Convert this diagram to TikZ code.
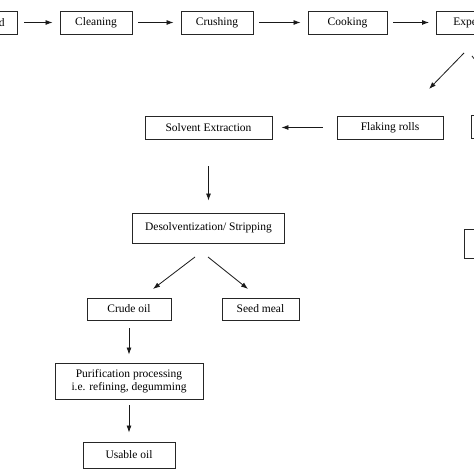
\documentclass[tikz,border=0pt]{standalone}
\usepackage{fontspec}
\setmainfont{Liberation Serif}
\usetikzlibrary{shapes, arrows.meta}
\tikzstyle{block} = [rectangle, draw=black!85, line width=0.9pt, text=black,
    font=\fontsize{11.5}{13.5}\selectfont, minimum height=23pt, inner sep=2pt]
\tikzstyle{line} = [draw=black!90, line width=0.8pt, -{Latex[length=7pt,width=5pt]}]
\tikzstyle{gap} = [shorten <=6pt, shorten >=7pt]

\begin{document}
\begin{tikzpicture}[node distance=121pt, auto, x=1pt, y=1pt]
        \useasboundingbox (0,0) rectangle (474,474);
        \clip (0,0) rectangle (474,474);
        % Place nodes
        \node [block, minimum width=72pt] (cleaning) at (96,451.5) {Cleaning};
        \node [block, anchor=east, text width=10pt, align=right, inner xsep=13pt] (seed) at (18,451.5) {d};
        \node [block, right of=cleaning, minimum width=72pt] (crushing) {Crushing};
        \node [block, right of=crushing, node distance=130.5pt, minimum width=79pt] (cooking) {Cooking};
        \node [block, anchor=west, text width=46pt, align=left, inner xsep=17pt] (expeller) at (436,451.5) {Expe};
        \node [block, minimum width=106pt] (flaking) at (390,346.5) {Flaking rolls};
        \node [block, minimum width=127pt] (solvent) at (208.5,346.5) {Solvent Extraction};
        \node [block, anchor=west, minimum width=60pt] (sidea) at (471,347) {};
        \node [block, below of=solvent, node distance=100.5pt, minimum width=152pt, minimum height=30pt] (desolv) {Desolventization/ Stripping};
        \node [block, anchor=west, minimum width=60pt, minimum height=29pt] (sideb) at (464,230.5) {};
        \node [block, minimum width=84pt, minimum height=22pt] (crude) at (129,165) {Crude oil};
        \node [block, minimum width=77pt, minimum height=22pt] (meal) at (260.5,165) {Seed meal};
        \node [block, below of=crude, node distance=72pt, minimum width=148pt, minimum height=36pt, align=center] (purify) {Purification processing\\i.e. refining, degumming};
        \node [block, below of=purify, node distance=74pt, minimum width=92pt, minimum height=26pt] (usable) {Usable oil};
        % Free arrow ends
        \coordinate (e1) at (464,421);
        \coordinate (e2) at (429,385);
        \coordinate (e3) at (472,418);
        \coordinate (e4) at (500,382);
        \coordinate (d1) at (195,217);
        \coordinate (d2) at (153,185);
        \coordinate (d3) at (208,217);
        \coordinate (d4) at (248,185);
        % Draw edges
        \path [line, gap] (seed) -- (cleaning);
        \path [line, gap] (cleaning) -- (crushing);
        \path [line, gap] (crushing) -- (cooking);
        \path [line, gap] (cooking) -- (expeller);
        \path [line] (e1) -- (e2);
        \path [line] (e3) -- (e4);
        \path [line, shorten <=14pt, shorten >=9pt] (flaking) -- (solvent);
        \path [line, shorten <=27pt, shorten >=12pt] (solvent.south) -- (solvent.south |- desolv.north);
        \path [line] (d1) -- (d2);
        \path [line] (d3) -- (d4);
        \path [line, shorten <=8pt, shorten >=8pt] (crude) -- (purify);
        \path [line, shorten <=6pt, shorten >=9pt] (purify) -- (usable);
\end{tikzpicture}
\end{document}
